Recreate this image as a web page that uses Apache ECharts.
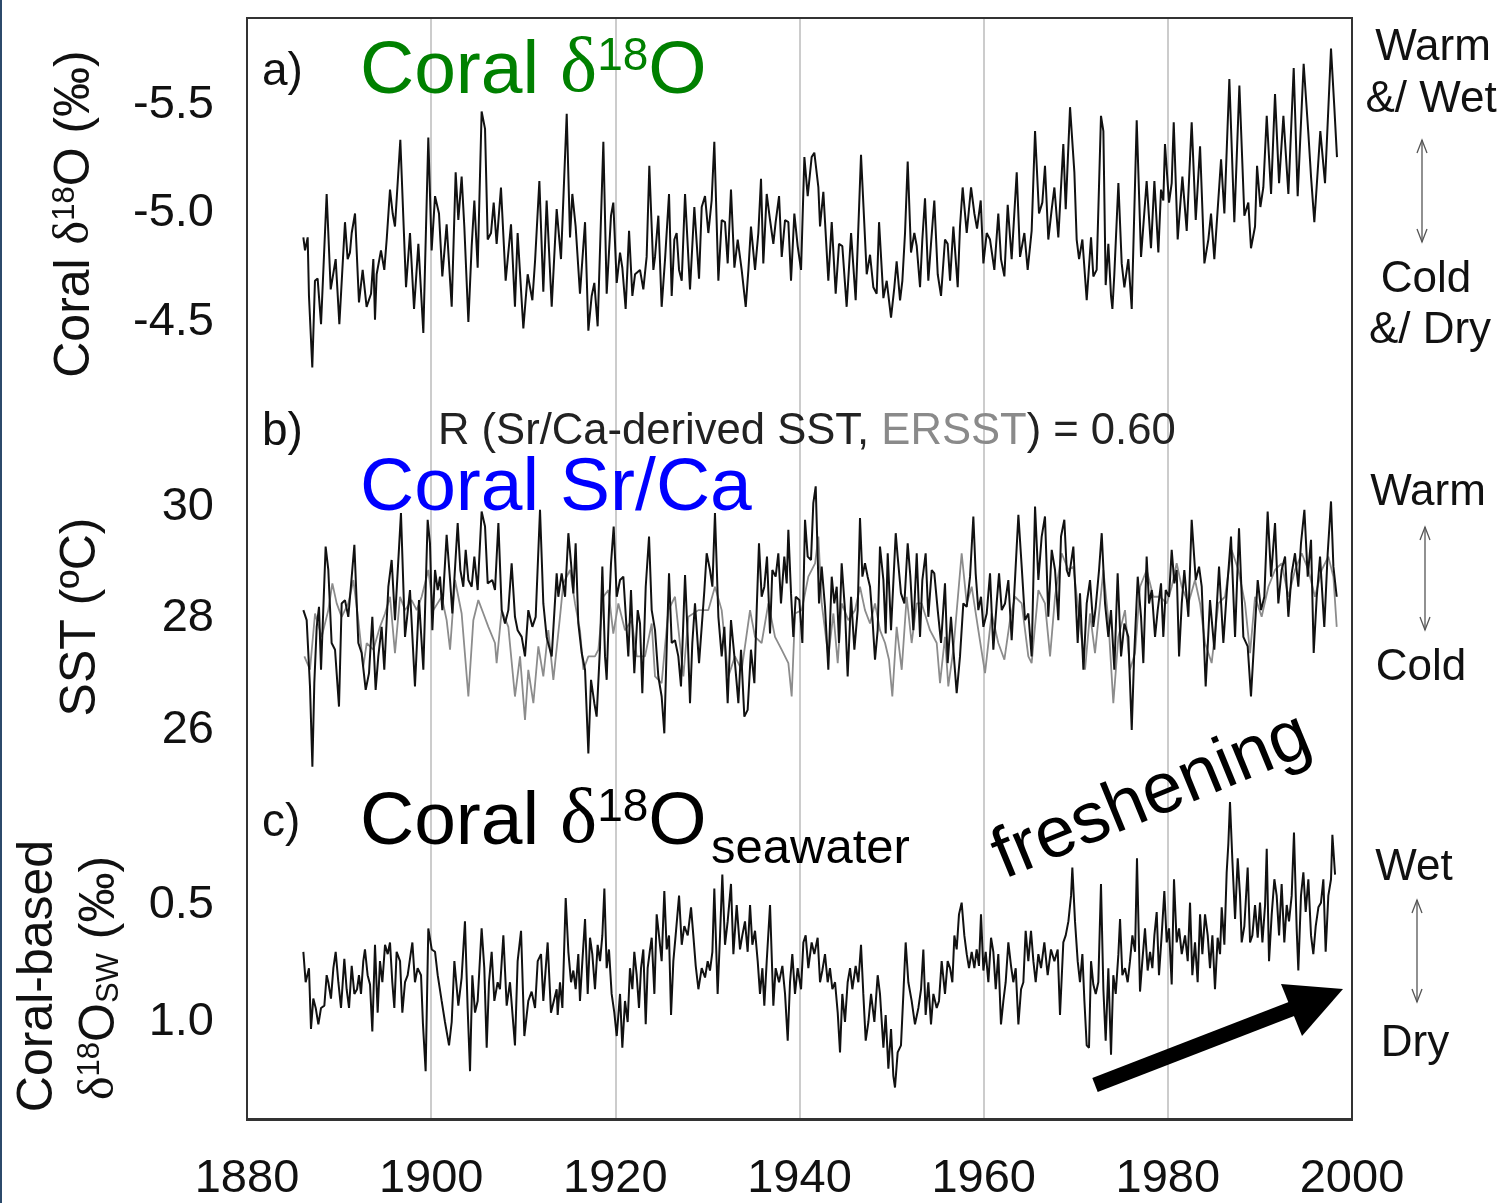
<!DOCTYPE html>
<html><head><meta charset="utf-8">
<script src="https://cdn.jsdelivr.net/npm/echarts/dist/echarts.min.js"></script>
<style>html,body{margin:0;padding:0;background:#fff}#c{width:1508px;height:1203px}</style>
</head><body><div id="c"></div>
<script>
// ---- data: [year, value] ----
const coralD18O = [
[1886.12,-4.89],[1886.30,-4.83],[1886.59,-4.89],[1886.73,-4.62],[1887.09,-4.29],[1887.38,-4.69],[1887.67,-4.70],[1888.04,-4.49],[1888.65,-5.09],[1889.09,-4.65],[1889.63,-4.79],[1890.03,-4.49],[1890.64,-4.96],[1890.93,-4.79],[1891.18,-4.82],[1891.37,-4.91],[1891.73,-5.00],[1892.16,-4.59],[1892.56,-4.74],[1892.99,-4.57],[1893.47,-4.63],[1893.72,-4.79],[1893.90,-4.51],[1894.08,-4.72],[1894.55,-4.83],[1894.91,-4.74],[1895.17,-4.88],[1895.53,-5.11],[1895.82,-5.00],[1896.07,-4.94],[1896.65,-5.34],[1897.27,-4.66],[1897.70,-4.91],[1898.14,-4.56],[1898.61,-4.86],[1899.15,-4.45],[1899.69,-5.35],[1900.05,-4.83],[1900.42,-5.08],[1900.85,-5.00],[1901.21,-4.71],[1901.68,-4.95],[1902.23,-4.57],[1902.66,-5.19],[1902.95,-4.97],[1903.31,-5.17],[1903.60,-4.94],[1904.04,-4.50],[1904.40,-4.85],[1904.69,-5.06],[1905.05,-4.75],[1905.48,-5.47],[1905.85,-5.39],[1906.14,-4.88],[1906.50,-4.91],[1906.79,-5.05],[1907.11,-4.86],[1907.58,-5.12],[1908.09,-4.69],[1908.67,-4.95],[1909.10,-4.57],[1909.39,-4.91],[1910.01,-4.47],[1910.48,-4.72],[1910.99,-4.60],[1911.28,-4.78],[1911.75,-5.15],[1912.18,-4.64],[1912.54,-5.06],[1913.09,-4.57],
[1913.63,-5.02],[1914.10,-4.79],[1914.72,-5.46],[1915.08,-4.89],[1915.33,-5.09],[1915.69,-4.94],[1916.16,-4.63],[1916.71,-4.96],[1917.07,-4.46],[1917.43,-4.62],[1917.72,-4.68],[1918.08,-4.48],[1918.70,-5.33],[1919.06,-4.63],[1919.53,-4.99],[1919.78,-5.05],[1920.15,-4.68],[1920.51,-4.82],[1920.76,-4.75],[1921.12,-4.56],[1921.49,-4.92],[1921.85,-4.62],[1922.14,-4.72],[1922.68,-4.74],[1923.04,-4.65],[1923.40,-4.80],[1923.69,-5.22],[1924.13,-4.74],[1924.31,-4.80],[1924.67,-4.99],[1925.03,-4.57],[1925.40,-4.79],[1925.83,-5.09],[1926.12,-4.62],[1926.41,-4.88],[1926.66,-4.91],[1926.92,-4.74],[1927.21,-4.69],[1927.57,-5.09],[1928.11,-4.65],[1928.58,-5.03],[1929.09,-4.70],[1929.38,-5.03],[1929.74,-5.08],[1930.10,-4.91],[1930.46,-5.06],[1930.75,-5.33],[1931.19,-4.69],[1931.55,-4.97],[1931.91,-4.96],[1932.20,-4.77],[1932.56,-5.11],[1932.93,-4.75],[1933.29,-4.88],[1933.72,-4.74],[1934.16,-4.57],[1934.45,-4.74],[1934.73,-4.94],[1935.17,-4.74],[1935.53,-4.91],[1935.82,-5.16],[1936.07,-4.77],[1936.44,-5.09],[1936.80,-4.97],[1937.16,-4.86],[1937.41,-4.96],[1937.78,-5.08],[1938.07,-4.80],[1938.43,-4.97],[1938.79,-4.96],[1939.08,-4.69],[1939.44,-5.00],[1939.80,-4.85],[1940.17,-4.74],[1940.53,-5.26],[1940.89,-5.08],[1941.32,-5.26],[1941.61,-5.28],
[1942.05,-5.12],[1942.23,-4.94],[1942.59,-5.10],[1943.13,-4.69],[1943.50,-4.96],[1943.93,-4.63],[1944.29,-4.86],[1944.65,-4.85],[1945.12,-4.57],[1945.60,-4.91],[1946.10,-4.60],[1946.68,-5.27],[1947.30,-4.72],[1947.66,-4.81],[1948.02,-4.66],[1948.38,-4.63],[1948.64,-4.96],[1949.11,-4.61],[1949.47,-4.69],[1949.94,-4.52],[1950.30,-4.66],[1950.55,-4.78],[1950.92,-4.60],[1951.17,-4.69],[1951.46,-4.91],[1951.75,-5.24],[1952.11,-4.82],[1952.47,-4.91],[1952.73,-4.85],[1953.09,-4.66],[1953.34,-4.88],[1953.63,-5.07],[1953.99,-4.69],[1954.28,-4.86],[1954.64,-5.06],[1955.01,-4.72],[1955.37,-4.62],[1955.80,-4.88],[1956.09,-4.86],[1956.35,-4.69],[1956.71,-4.94],[1957.18,-4.66],[1957.43,-4.94],[1957.72,-5.12],[1958.16,-4.91],[1958.63,-5.12],[1958.99,-5.00],[1959.28,-4.93],[1959.68,-5.06],[1959.97,-4.77],[1960.33,-4.91],[1960.69,-4.88],[1961.16,-4.74],[1961.59,-5.00],[1961.88,-4.79],[1962.25,-4.71],[1962.61,-5.04],[1963.04,-4.79],[1963.59,-5.19],[1963.95,-4.80],[1964.42,-4.91],[1964.78,-4.74],[1965.21,-4.92],[1965.58,-5.38],[1966.01,-5.00],[1966.37,-5.05],[1966.66,-5.22],[1967.02,-4.88],[1967.39,-5.02],[1967.68,-5.12],[1968.11,-4.89],[1968.65,-5.32],[1968.91,-5.02],[1969.38,-5.49],[1969.85,-5.19],
[1970.10,-4.88],[1970.36,-4.79],[1970.72,-4.88],[1971.19,-4.60],[1971.66,-4.89],[1971.91,-4.71],[1972.27,-4.74],[1972.74,-5.45],[1973.00,-5.38],[1973.25,-4.67],[1973.54,-4.86],[1973.83,-4.62],[1973.98,-4.56],[1974.19,-4.72],[1974.63,-5.14],[1974.99,-4.77],[1975.28,-4.66],[1975.71,-4.79],[1976.08,-4.56],[1976.62,-5.43],[1977.09,-4.80],[1977.70,-5.15],[1978.17,-4.84],[1978.54,-5.15],[1978.97,-4.82],[1979.26,-5.11],[1979.51,-5.06],[1979.69,-5.32],[1980.13,-5.05],[1980.42,-5.14],[1980.64,-5.42],[1981.07,-4.88],[1981.58,-5.17],[1982.05,-4.92],[1982.59,-5.42],[1983.03,-4.97],[1983.50,-5.31],[1983.97,-4.77],[1984.40,-4.88],[1984.69,-5.00],[1985.05,-4.79],[1985.78,-5.25],[1986.14,-5.00],[1986.68,-5.62],[1987.22,-4.96],[1987.77,-5.59],[1988.31,-4.99],[1988.74,-5.05],[1989.03,-4.84],[1989.47,-4.94],[1989.69,-5.22],[1990.05,-5.03],[1990.37,-5.12],[1990.74,-5.45],[1991.21,-5.09],[1991.64,-5.55],[1992.08,-5.14],[1992.55,-5.45],[1993.09,-5.09],[1993.67,-5.67],[1994.10,-5.08],[1994.75,-5.69],[1995.26,-5.37],[1995.55,-5.17],[1995.91,-4.96],[1996.56,-5.38],[1997.07,-5.14],[1997.72,-5.76],[1998.08,-5.49],[1998.37,-5.26]
];
const srcaSST = [
[1886.12,28.15],[1886.48,27.97],[1886.84,26.78],[1887.10,25.34],[1887.31,26.84],[1887.57,27.85],[1887.82,28.21],[1888.04,27.08],[1888.54,29.29],[1888.83,28.87],[1889.19,27.56],[1889.56,27.44],[1889.99,26.42],[1890.28,28.27],[1890.64,28.33],[1891.00,28.03],[1891.19,28.39],[1891.66,29.32],[1892.09,27.56],[1892.45,27.38],[1892.89,26.72],[1893.25,27.02],[1893.61,28.03],[1893.97,26.72],[1894.26,27.32],[1894.62,27.85],[1894.91,27.08],[1895.35,28.57],[1895.71,29.05],[1896.07,27.97],[1896.72,29.89],[1897.16,27.67],[1897.70,28.51],[1898.24,26.78],[1898.68,28.33],[1899.15,27.08],[1899.62,29.77],[1899.87,29.35],[1900.13,27.79],[1900.42,28.87],[1900.71,28.51],[1900.96,28.75],[1901.21,28.15],[1901.68,29.50],[1902.05,28.69],[1902.30,28.09],[1902.88,29.71],[1903.17,28.87],[1903.49,28.57],[1903.75,29.23],[1904.04,28.69],[1904.40,28.57],[1904.69,29.11],[1905.05,28.51],[1905.48,29.92],[1905.85,29.65],[1906.14,28.63],[1906.64,28.69],[1906.93,28.51],[1907.30,29.71],[1907.66,28.15],[1908.02,27.91],[1908.38,28.15],[1908.74,28.99],[1909.10,28.03],[1909.39,27.79],[1909.83,27.67],[1910.19,27.32],[1910.55,28.15],[1910.99,27.85],[1911.35,28.03],[1911.82,29.95],[1912.18,28.27],[1912.54,27.67],[1913.09,27.32],[1913.63,28.81],
[1913.81,28.39],[1914.17,28.81],[1914.54,28.39],[1914.90,29.53],[1915.19,28.99],[1915.44,28.45],[1915.69,29.35],[1915.98,27.91],[1916.35,27.38],[1916.71,27.08],[1917.07,25.58],[1917.36,26.90],[1917.72,26.48],[1917.97,26.24],[1918.34,27.50],[1918.59,28.93],[1918.88,27.32],[1919.06,26.90],[1919.31,28.15],[1919.53,28.99],[1919.82,29.65],[1920.15,28.39],[1920.51,28.69],[1920.87,28.75],[1921.12,28.09],[1921.41,27.32],[1921.70,28.51],[1922.06,27.02],[1922.43,28.15],[1922.68,27.91],[1922.93,26.66],[1923.30,28.57],[1923.66,29.47],[1923.95,28.15],[1924.31,27.79],[1924.67,26.96],[1925.03,26.60],[1925.32,25.94],[1925.58,27.50],[1925.83,28.81],[1926.12,27.56],[1926.48,27.61],[1926.84,27.32],[1927.13,26.78],[1927.57,28.78],[1927.86,27.67],[1928.11,26.48],[1928.36,27.56],[1928.65,28.27],[1929.09,27.20],[1929.38,27.85],[1929.67,28.51],[1929.92,29.17],[1930.28,28.87],[1930.54,28.57],[1930.82,29.89],[1931.19,28.03],[1931.55,27.32],[1931.84,27.85],[1932.20,26.48],[1932.56,27.97],[1932.93,27.32],[1933.18,26.84],[1933.36,26.48],[1933.65,27.44],[1934.01,26.24],[1934.37,26.36],[1934.73,27.44],[1935.10,26.84],[1935.35,28.15],[1935.60,29.35],[1935.89,28.39],[1936.18,28.57],[1936.47,29.11],[1936.80,27.73],[1937.05,28.87],[1937.41,28.75],[1937.70,29.17],[1937.99,28.27],[1938.35,29.11],[1938.61,28.63],[1938.79,29.59],[1939.08,28.45],[1939.33,27.67],[1939.59,28.39],[1939.98,28.33],[1940.31,27.56],[1940.60,29.77],[1940.89,29.11],[1941.25,29.05],[1941.50,30.07],[1941.76,30.37],
[1942.12,28.27],[1942.41,28.93],[1942.77,28.21],[1943.13,27.08],[1943.50,28.75],[1943.78,28.27],[1944.04,28.57],[1944.29,27.56],[1944.58,28.99],[1944.94,28.15],[1945.23,26.96],[1945.60,28.39],[1945.96,27.44],[1946.32,28.15],[1946.57,29.80],[1946.83,28.75],[1947.11,28.99],[1947.40,28.75],[1947.66,28.57],[1947.91,28.03],[1948.20,27.26],[1948.49,27.79],[1948.74,29.29],[1949.11,28.69],[1949.36,27.73],[1949.58,29.17],[1949.94,27.79],[1950.45,29.53],[1950.66,29.11],[1951.02,28.45],[1951.39,28.27],[1951.75,29.35],[1952.04,28.75],[1952.36,27.79],[1952.73,29.17],[1953.09,27.67],[1953.34,28.69],[1953.70,29.17],[1953.99,28.03],[1954.36,28.87],[1954.64,28.81],[1955.01,28.15],[1955.37,27.56],[1955.80,28.63],[1956.09,27.20],[1956.45,28.03],[1956.82,27.20],[1957.07,26.66],[1957.43,27.32],[1957.79,28.27],[1958.16,28.21],[1958.52,28.75],[1958.88,29.83],[1959.13,28.81],[1959.42,28.15],[1959.71,28.39],[1959.97,27.85],[1960.33,28.09],[1960.69,28.81],[1961.05,27.44],[1961.41,28.27],[1961.67,28.81],[1961.96,28.15],[1962.32,28.27],[1962.68,28.69],[1963.04,27.61],[1963.40,28.69],[1963.77,29.86],[1964.13,28.93],[1964.49,27.97],[1964.85,28.09],[1965.21,27.32],[1965.58,30.01],[1965.94,28.69],[1966.30,29.47],[1966.66,29.83],[1967.02,28.03],[1967.39,29.23],[1967.75,28.87],[1968.11,27.97],[1968.40,29.47],[1968.76,29.77],[1969.02,28.87],[1969.27,28.75],[1969.74,29.29],
[1970.21,27.56],[1970.46,28.45],[1970.83,27.08],[1971.19,28.27],[1971.55,28.69],[1971.91,27.85],[1972.17,28.21],[1972.53,28.87],[1972.82,29.53],[1973.18,28.27],[1973.54,27.67],[1973.83,28.15],[1974.19,27.08],[1974.55,28.81],[1974.92,27.32],[1975.28,27.91],[1975.71,27.67],[1976.08,26.00],[1976.34,27.32],[1976.73,28.75],[1977.09,28.03],[1977.34,27.20],[1977.70,29.11],[1977.96,28.27],[1978.25,28.51],[1978.61,27.67],[1978.90,28.15],[1979.26,28.63],[1979.51,27.67],[1979.77,28.51],[1980.13,28.39],[1980.42,29.23],[1980.71,28.63],[1980.96,28.87],[1981.22,27.32],[1981.51,28.27],[1981.79,28.87],[1982.23,28.03],[1982.59,29.77],[1983.03,28.69],[1983.39,28.93],[1983.68,28.57],[1984.11,26.78],[1984.58,28.33],[1985.05,27.44],[1985.56,28.93],[1986.03,27.56],[1986.39,28.45],[1986.86,29.47],[1987.30,27.67],[1987.73,29.62],[1988.20,27.67],[1988.67,27.50],[1989.03,26.60],[1989.40,27.67],[1989.76,28.69],[1990.12,28.15],[1990.48,28.39],[1990.84,29.92],[1991.21,28.75],[1991.64,29.71],[1992.00,28.27],[1992.36,28.87],[1992.73,29.11],[1993.09,28.03],[1993.45,28.81],[1993.81,29.17],[1994.17,28.57],[1994.46,29.35],[1994.83,29.95],[1995.19,28.75],[1995.55,29.41],[1995.84,27.38],[1996.17,28.39],[1996.53,29.11],[1996.99,27.85],[1997.36,29.17],[1997.72,30.10],[1997.98,28.93],[1998.34,28.39]
];
const ersstSST = [
[1886.23,27.32],[1886.84,27.08],[1887.39,28.09],[1888.11,27.67],[1888.83,28.15],[1889.27,28.63],[1889.74,28.27],[1890.28,28.03],[1891.00,28.27],[1891.55,28.69],[1892.09,27.97],[1892.63,27.14],[1893.00,27.56],[1893.72,27.44],[1894.44,27.85],[1894.99,28.09],[1895.53,28.39],[1896.07,27.38],[1896.62,28.39],[1897.16,28.15],[1897.88,28.33],[1898.43,28.15],[1898.97,28.39],[1899.69,28.87],[1900.24,28.15],[1901.14,28.39],[1901.68,27.97],[1902.05,27.44],[1902.59,28.69],[1903.31,28.09],[1904.04,26.60],[1904.58,27.97],[1905.12,28.33],[1905.67,28.09],[1906.21,27.85],[1906.93,27.56],[1907.11,27.20],[1907.66,28.15],[1908.38,27.85],[1909.10,26.60],[1909.65,27.32],[1910.19,26.18],[1910.55,27.08],[1911.10,26.48],[1911.64,27.50],[1912.18,26.96],[1912.72,27.79],[1913.27,26.90],[1913.99,28.03],
[1914.35,28.63],[1915.08,28.87],[1915.62,28.27],[1916.16,27.79],[1916.53,27.08],[1917.07,27.32],[1917.79,27.32],[1918.16,27.44],[1918.70,28.39],[1919.24,28.51],[1919.78,27.73],[1920.33,28.27],[1921.05,27.79],[1921.77,27.97],[1922.32,27.32],[1923.22,27.32],[1923.95,27.91],[1924.31,26.96],[1925.03,26.84],[1925.76,28.15],[1926.48,28.39],[1927.39,26.96],[1927.93,28.03],[1929.02,28.15],[1930.10,28.15],[1930.82,28.57],[1931.55,28.15],[1932.27,26.96],[1932.99,27.32],[1933.72,27.08],[1934.63,28.15],[1935.17,27.67],[1935.89,27.56],[1936.62,28.27],[1937.34,27.67],[1938.06,27.44],[1938.79,27.20],[1939.15,26.60],[1939.51,28.09],[1940.24,28.15],[1940.96,28.75],[1941.69,28.99],
[1942.05,29.47],[1942.41,28.27],[1943.13,27.32],[1943.68,28.09],[1944.15,27.20],[1944.58,28.27],[1945.30,27.97],[1946.03,28.15],[1946.57,28.57],[1947.11,28.15],[1947.66,27.91],[1948.20,28.27],[1948.74,27.79],[1949.29,27.56],[1949.72,27.26],[1950.08,26.60],[1950.55,27.85],[1951.10,27.08],[1951.64,28.39],[1952.18,27.56],[1952.73,28.27],[1953.27,28.27],[1954.17,27.79],[1954.90,27.56],[1955.26,26.84],[1955.80,27.67],[1956.16,26.78],[1956.71,27.44],[1957.61,29.17],[1958.16,28.27],[1958.70,28.57],[1959.42,27.79],[1960.15,27.02],[1960.87,28.09],[1961.59,27.56],[1962.25,27.26],[1962.86,27.97],[1963.40,28.39],[1964.13,28.27],[1964.85,27.32],[1965.21,27.20],[1965.94,28.51],[1966.66,28.27],[1967.21,27.32],[1967.75,28.39],[1968.47,29.17],[1969.20,28.87],[1969.74,28.93],
[1970.28,28.15],[1971.01,27.08],[1971.55,28.09],[1972.09,27.38],[1972.64,28.27],[1973.00,28.87],[1973.54,27.97],[1974.08,26.48],[1974.63,27.67],[1975.35,28.15],[1975.89,27.08],[1976.44,27.38],[1976.98,28.57],[1977.70,28.87],[1978.43,28.39],[1979.15,28.39],[1979.88,28.27],[1980.42,28.57],[1980.96,28.99],[1981.51,28.57],[1982.23,28.27],[1982.95,28.69],[1983.50,28.27],[1984.04,27.56],[1984.76,27.20],[1985.49,28.27],[1986.21,28.39],[1986.93,29.23],[1987.66,28.87],[1988.38,28.27],[1988.93,27.38],[1989.47,28.39],[1990.19,28.03],[1990.92,28.57],[1991.64,28.87],[1992.36,28.99],[1993.09,28.39],[1993.81,28.87],[1994.54,29.17],[1995.26,28.87],[1995.98,28.39],[1996.71,28.87],[1997.43,29.11],[1997.98,28.75],[1998.34,27.85]
];
const coralD18Osw = [
[1886.12,0.70],[1886.37,0.83],[1886.73,0.77],[1886.95,1.03],[1887.20,0.90],[1887.46,0.94],[1887.75,1.01],[1888.04,0.94],[1888.40,0.93],[1888.65,0.80],[1888.83,0.83],[1889.12,0.90],[1889.38,0.77],[1889.63,0.70],[1889.92,0.83],[1890.21,0.94],[1890.57,0.73],[1890.82,0.86],[1891.08,0.94],[1891.37,0.76],[1891.66,0.88],[1891.95,0.86],[1892.16,0.80],[1892.38,0.88],[1892.63,0.74],[1892.81,0.69],[1893.10,0.80],[1893.36,0.84],[1893.61,1.04],[1893.90,0.67],[1894.19,0.96],[1894.44,0.74],[1894.70,0.83],[1894.99,0.67],[1895.28,0.71],[1895.53,0.66],[1895.78,0.83],[1896.00,0.94],[1896.25,0.70],[1896.62,0.74],[1896.87,0.96],[1897.16,0.83],[1897.45,0.80],[1897.70,0.73],[1897.96,0.66],[1898.24,0.83],[1898.53,0.77],[1898.90,0.80],[1899.11,1.01],[1899.40,1.21],[1899.69,0.60],[1900.06,0.69],[1900.42,0.70],[1900.71,0.80],[1901.14,0.91],[1901.50,1.00],[1901.94,1.10],[1902.23,1.00],[1902.52,0.74],[1902.95,0.93],[1903.31,0.81],[1903.67,0.57],[1903.96,0.94],[1904.22,1.21],[1904.47,0.80],[1904.76,0.96],[1905.05,0.91],[1905.48,0.60],[1905.77,0.77],[1906.03,1.11],[1906.28,0.83],[1906.57,0.70],[1906.86,0.91],[1907.22,0.83],[1907.47,0.86],[1907.84,0.63],[1908.20,0.93],[1908.56,0.83],[1909.10,1.10],[1909.39,0.74],[1909.76,0.61],[1910.12,1.06],[1910.55,0.91],[1910.91,0.87],[1911.28,0.94],[1911.57,0.74],[1911.93,0.71],[1912.18,0.91],[1912.65,0.66],[1913.01,0.96],[1913.63,0.86],
[1913.74,0.97],[1913.99,0.83],[1914.25,0.94],[1914.61,0.47],[1914.90,0.70],[1915.19,0.83],[1915.44,0.78],[1915.69,0.86],[1915.98,0.71],[1916.16,0.91],[1916.42,0.74],[1916.71,0.56],[1917.00,0.88],[1917.25,0.64],[1917.50,0.71],[1917.79,0.86],[1918.08,0.67],[1918.34,0.74],[1918.59,0.63],[1918.81,0.43],[1919.06,0.77],[1919.31,0.69],[1919.60,0.88],[1919.89,0.96],[1920.15,1.06],[1920.51,0.88],[1920.76,1.11],[1921.05,0.91],[1921.34,1.00],[1921.59,0.77],[1921.85,0.86],[1922.06,0.70],[1922.32,0.80],[1922.57,0.94],[1922.79,0.77],[1923.04,0.69],[1923.30,1.01],[1923.51,0.77],[1923.77,0.69],[1923.95,0.64],[1924.24,0.88],[1924.49,0.54],[1924.74,0.63],[1925.03,0.74],[1925.32,0.44],[1925.58,0.69],[1925.83,0.63],[1926.05,0.97],[1926.30,0.74],[1926.55,0.63],[1926.92,0.46],[1927.21,0.67],[1927.49,0.59],[1927.86,0.63],[1928.22,0.51],[1928.47,0.63],[1928.73,0.76],[1929.02,0.86],[1929.38,0.77],[1929.74,0.81],[1930.03,0.74],[1930.28,0.78],[1930.54,0.70],[1930.75,0.43],[1931.11,0.88],[1931.37,0.63],[1931.62,0.37],[1931.91,0.67],[1932.20,0.57],[1932.56,0.41],[1932.82,0.71],[1933.18,0.50],[1933.54,0.69],[1933.79,0.63],[1934.08,0.57],[1934.37,0.70],[1934.63,0.50],[1934.88,0.67],[1935.17,0.61],[1935.46,0.74],[1935.71,0.88],[1935.97,0.77],[1936.18,0.93],[1936.44,0.74],[1936.80,0.50],[1937.16,0.93],[1937.41,0.77],[1937.78,0.83],[1938.14,0.76],[1938.43,0.88],[1938.72,1.08],[1938.97,0.83],[1939.22,0.71],[1939.51,0.88],[1939.80,0.77],[1940.17,0.86],[1940.42,0.66],[1940.67,0.63],[1940.96,0.77],[1941.32,0.66],[1941.61,0.71],
[1941.97,0.64],[1942.23,0.83],[1942.48,0.78],[1942.77,0.71],[1943.06,0.83],[1943.31,0.77],[1943.57,0.86],[1943.86,0.83],[1944.15,0.96],[1944.40,1.13],[1944.65,0.88],[1944.94,1.00],[1945.23,0.83],[1945.49,0.77],[1945.74,0.86],[1946.10,0.76],[1946.39,0.83],[1946.68,0.67],[1946.93,0.88],[1947.19,1.08],[1947.48,1.00],[1947.77,0.88],[1948.13,1.00],[1948.49,0.80],[1948.74,0.88],[1949.11,1.11],[1949.36,0.97],[1949.65,1.20],[1949.94,1.03],[1950.19,1.23],[1950.37,1.28],[1950.66,1.13],[1951.02,1.10],[1951.28,0.88],[1951.53,0.66],[1951.82,0.83],[1952.18,0.91],[1952.54,1.01],[1952.91,0.94],[1953.20,0.86],[1953.45,0.69],[1953.70,0.97],[1953.99,0.83],[1954.28,1.01],[1954.54,0.88],[1954.90,0.94],[1955.15,0.91],[1955.44,0.74],[1955.80,0.88],[1956.09,0.74],[1956.35,0.77],[1956.60,0.83],[1956.82,0.63],[1957.07,0.69],[1957.32,0.54],[1957.61,0.49],[1957.90,0.63],[1958.16,0.71],[1958.41,0.77],[1958.70,0.70],[1958.99,0.77],[1959.24,0.69],[1959.49,0.76],[1959.71,0.54],[1959.97,0.78],[1960.22,0.70],[1960.51,0.83],[1960.80,0.64],[1961.05,0.70],[1961.31,0.86],[1961.59,0.71],[1961.88,1.01],[1962.14,0.91],[1962.39,0.83],[1962.68,0.66],[1962.97,0.76],[1963.22,0.83],[1963.48,0.77],[1963.77,1.01],[1964.06,0.86],[1964.31,0.83],[1964.56,0.61],[1964.85,0.74],[1965.14,0.61],[1965.40,0.74],[1965.65,0.83],[1965.94,0.71],[1966.23,0.77],[1966.59,0.66],[1966.95,0.80],[1967.31,0.69],[1967.68,0.74],[1968.04,0.69],[1968.29,0.97],[1968.65,0.66],[1968.91,0.63],[1969.20,0.57],[1969.49,0.46],[1969.63,0.34],
[1969.92,0.57],[1970.21,0.74],[1970.46,0.83],[1970.72,0.71],[1970.94,0.91],[1971.19,1.10],[1971.44,1.11],[1971.66,0.74],[1971.91,0.84],[1972.17,0.88],[1972.45,0.83],[1972.74,0.41],[1973.00,0.86],[1973.25,1.08],[1973.54,0.77],[1973.83,1.14],[1974.08,0.80],[1974.34,0.88],[1974.63,0.71],[1974.81,0.56],[1975.06,0.80],[1975.35,0.77],[1975.64,0.83],[1975.89,0.74],[1976.15,0.63],[1976.44,0.70],[1976.65,0.30],[1976.98,0.87],[1977.23,0.74],[1977.52,0.60],[1977.81,0.78],[1978.07,0.70],[1978.32,0.77],[1978.54,0.63],[1978.79,0.53],[1979.04,0.80],[1979.33,0.63],[1979.62,0.44],[1979.88,0.66],[1980.13,0.60],[1980.42,0.84],[1980.67,0.39],[1980.96,0.66],[1981.22,0.60],[1981.51,0.71],[1981.87,0.63],[1982.16,0.74],[1982.41,0.49],[1982.66,0.80],[1982.95,0.66],[1983.24,0.83],[1983.50,0.54],[1983.75,0.71],[1984.04,0.54],[1984.33,0.63],[1984.58,0.77],[1984.84,0.63],[1985.12,0.86],[1985.41,0.64],[1985.67,0.71],[1985.85,0.51],[1986.14,0.67],[1986.39,0.36],[1986.57,0.24],[1986.75,0.06],[1987.01,0.31],[1987.30,0.56],[1987.59,0.30],[1987.84,0.46],[1988.02,0.66],[1988.31,0.59],[1988.67,0.34],[1988.93,0.66],[1989.18,0.63],[1989.47,0.50],[1989.76,0.64],[1990.01,0.49],[1990.27,0.66],[1990.56,0.50],[1990.74,0.26],[1990.99,0.74],[1991.28,0.54],[1991.57,0.39],[1991.82,0.46],[1992.08,0.63],[1992.36,0.41],[1992.65,0.66],[1992.91,0.50],[1993.16,0.57],[1993.45,0.46],[1993.70,0.19],[1993.99,0.60],[1994.17,0.78],[1994.46,0.46],[1994.72,0.36],[1994.97,0.53],[1995.26,0.39],[1995.55,0.63],[1995.80,0.71],[1996.06,0.59],[1996.35,0.51],[1996.63,0.49],[1996.89,0.39],[1997.14,0.70],[1997.43,0.46],[1997.72,0.39],[1997.87,0.20],[1998.16,0.37]
];
const ticksA = [-5.5, -5.0, -4.5];
const ticksB = [26, 28, 30];
const ticksC = [0.5, 1.0];

// ---- layout / styling ----
const FF = '"Liberation Sans", Arial, sans-serif';
const SERIF = '"Liberation Serif", "Times New Roman", serif';
const L = 247, R = 156;
function hiddenX(i){ return {type:'value', gridIndex:i, min:1880, max:2000, show:false}; }
function panelY(i, min, max, inv, ticks, dec){
  return {type:'value', gridIndex:i, min:min, max:max, inverse:inv,
    axisLine:{show:false}, splitLine:{show:false},
    axisTick:{show:false},
    axisLabel:{customValues:ticks, fontSize:47, fontFamily:FF, color:'#111', margin:33,
      formatter:v=>Number(v).toFixed(dec)}};
}
function T(x, y, text, size, ex){
  return Object.assign({type:'text', x:x, y:y, z:100, style:Object.assign({text:text, fontSize:size, fontFamily:FF, fill:'#111',
    align:'left', verticalAlign:'middle', textAlign:'left', textVerticalAlign:'middle'}, ex||{})});
}
function TC(x, y, text, size){ return T(x, y, text, size, {align:'center', textAlign:'center'}); }
function dbl(x, y1, y2){
  const c = '#555';
  return [
    {type:'line', z:100, shape:{x1:x, y1:y1, x2:x, y2:y2}, style:{stroke:c, lineWidth:1.3}},
    {type:'polyline', z:100, shape:{points:[[x-5, y1+13],[x, y1],[x+5, y1+13]]}, style:{stroke:c, lineWidth:1.3, fill:null}},
    {type:'polyline', z:100, shape:{points:[[x-5, y2-13],[x, y2],[x+5, y2-13]]}, style:{stroke:c, lineWidth:1.3, fill:null}}
  ];
}
function richTitle(x, y, color, size, supSize){
  return {type:'text', x:x, y:y, z:100, style:{
    text:'{a|Coral }{d|δ}{s|18}{a|O}', align:'left', verticalAlign:'middle', textAlign:'left', textVerticalAlign:'middle',
    rich:{
      a:{fontSize:size, fontFamily:FF, fill:color, lineHeight:size, verticalAlign:'bottom'},
      d:{fontSize:size*1.05, fontFamily:SERIF, fill:color, lineHeight:size, verticalAlign:'bottom'},
      s:{fontSize:supSize, fontFamily:FF, fill:color, lineHeight:supSize, verticalAlign:'top'}
    }}};
}
const yName = (x, y, text, rich) => ({type:'text', x:x, y:y, z:100, rotation:Math.PI/2, style:{
  text:text, align:'center', verticalAlign:'middle', textAlign:'center', textVerticalAlign:'middle', fontSize:50, fontFamily:FF, fill:'#111', rich:rich}});
const axRich = {
  a:{fontSize:50, fontFamily:FF, fill:'#111', lineHeight:50, verticalAlign:'top'},
  d:{fontSize:50, fontFamily:SERIF, fill:'#111', lineHeight:50, verticalAlign:'top'},
  s:{fontSize:31, fontFamily:FF, fill:'#111', lineHeight:31, verticalAlign:'top'},
  b:{fontSize:31, fontFamily:FF, fill:'#111', lineHeight:31, verticalAlign:'bottom', padding:[24,0,0,0]}
};

const graphic = [
  {type:'rect', z:0, shape:{x:0, y:0, width:2, height:1203}, style:{fill:'#2c4a6b'}},
  {type:'rect', z:90, shape:{x:247, y:18, width:1105, height:1102}, style:{fill:null, stroke:'#333', lineWidth:2}},
  T(262, 72, 'a)', 46), T(262, 432, 'b)', 46), T(262, 823, 'c)', 46),
  richTitle(360, 72, '#008000', 75, 46),
  T(360, 489, 'Coral Sr/Ca', 75, {fill:'#0000ff'}),
  richTitle(360, 823, '#000000', 75, 46),
  T(711, 849, 'seawater', 49, {fill:'#000'}),
  {type:'text', x:438, y:432, z:100, style:{text:'{k|R (Sr/Ca-derived SST, }{g|ERSST}{k|) = 0.60}', align:'left', verticalAlign:'middle', textAlign:'left', textVerticalAlign:'middle',
    rich:{k:{fontSize:43.6, fontFamily:FF, fill:'#222'}, g:{fontSize:43.6, fontFamily:FF, fill:'#8a8a8a'}}}},
  {type:'text', x:1152, y:797, z:100, rotation:0.39, style:{text:'freshening', fontSize:72, fontFamily:FF, fill:'#000',
    align:'center', verticalAlign:'middle', textAlign:'center', textVerticalAlign:'middle'}},
  TC(1433, 48, 'Warm', 44), TC(1431, 100, '&/ Wet', 44), TC(1426, 280, 'Cold', 44), TC(1430, 331, '&/ Dry', 44),
  TC(1428, 493, 'Warm', 44), TC(1421, 668, 'Cold', 44), TC(1414, 868, 'Wet', 44), TC(1415, 1044, 'Dry', 44),
  ...dbl(1422, 140, 242), ...dbl(1425, 527, 630), ...dbl(1417, 900, 1002),
  {type:'line', z:100, shape:{x1:1095, y1:1085, x2:1294, y2:1008}, style:{stroke:'#000', lineWidth:15}},
  {type:'polygon', z:100, shape:{points:[[1343,989],[1281,984],[1302,1036]]}, style:{fill:'#000'}},
  yName(75, 214, '{a|Coral }{d|δ}{s|18}{a|O (‰)}', axRich),
  yName(81, 617, 'SST (ºC)', null),
  yName(38, 976, 'Coral-based', null),
  yName(100, 978, '{d|δ}{s|18}{a|O}{b|SW}{a| (‰)}', axRich)
];

const chart = echarts.init(document.getElementById('c'), null, {renderer:'canvas'});
chart.setOption({
  animation:false,
  backgroundColor:'#fff',
  grid:[
    {left:L, right:R, top:18, height:1102},
    {left:L, right:R, top:18.2, height:368.9},
    {left:L, right:R, top:395.5, height:418.1},
    {left:L, right:R, top:788, height:327.6}
  ],
  xAxis:[
    {type:'value', gridIndex:0, min:1880, max:2000, interval:20,
      axisLine:{show:true, lineStyle:{color:'#333', width:2}},
      axisTick:{show:false},
      axisLabel:{fontSize:47, fontFamily:FF, color:'#111', margin:37, formatter:v=>String(v)},
      splitLine:{show:true, showMinLine:false, showMaxLine:false, lineStyle:{color:'#cccccc', width:2}}},
    hiddenX(1), hiddenX(2), hiddenX(3)
  ],
  yAxis:[
    {type:'value', gridIndex:0, min:0, max:1, show:false},
    panelY(1, -5.9, -4.2, true, ticksA, 1),
    panelY(2, 24.5, 32, false, ticksB, 0),
    panelY(3, 0, 1.4, true, ticksC, 1)
  ],
  series:[
    {type:'line', xAxisIndex:1, yAxisIndex:1, data:coralD18O, symbol:'none', lineStyle:{color:'#111', width:2}},
    {type:'line', xAxisIndex:2, yAxisIndex:2, data:ersstSST, symbol:'none', lineStyle:{color:'#8c8c8c', width:1.8}},
    {type:'line', xAxisIndex:2, yAxisIndex:2, data:srcaSST, symbol:'none', lineStyle:{color:'#111', width:2}},
    {type:'line', xAxisIndex:3, yAxisIndex:3, data:coralD18Osw, symbol:'none', lineStyle:{color:'#111', width:2}}
  ],
  graphic:graphic
});
</script></body></html>
